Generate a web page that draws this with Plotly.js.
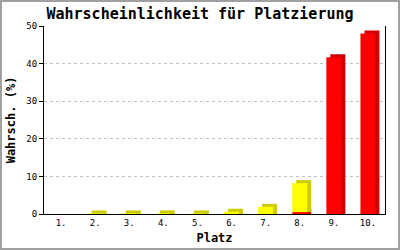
<!DOCTYPE html>
<html><head><meta charset="utf-8">
<script src="https://cdn.plot.ly/plotly-3.0.1.min.js"></script>
<style>
html,body{margin:0;padding:0;background:#fff;}
#wrap{width:400px;height:250px;box-sizing:border-box;border:2px solid #a0a0a0;}
#chart{width:396px;height:246px;}
</style></head><body>
<div id="wrap"><div id="chart"></div></div>
<script>
const categories = ["1.","2.","3.","4.","5.","6.","7.","8.","9.","10."];
const redValues = [0,0,0,0,0,0,0,0.5,41.7,48.0];
const yellowValues = [0,0.15,0.15,0.15,0.15,0.6,1.9,7.7,0,0];
const yTicks = [0,10,20,30,40,50];

const depthUp = 0.8;      // 3D depth (style)
const barW = 0.44;
const frontOff = -0.22;
const depthOff = -0.103;
const mono = "DejaVu Sans Mono";

const redDepth = redValues.map(v => v > 0 ? v + depthUp : null);
const yellowDepth = yellowValues.map(v => v > 0 ? v + depthUp : null);

const traces = [
  {type:'bar', x:categories, y:redDepth, base:0, width:barW, offset:depthOff,
   marker:{color:'#cc0000', line:{width:0}}, hoverinfo:'skip'},
  {type:'bar', x:categories, y:yellowDepth, base:redValues, width:barW, offset:depthOff,
   marker:{color:'#cccc00', line:{width:0}}, hoverinfo:'skip'},
  {type:'bar', x:categories, y:redValues, base:0, width:barW, offset:frontOff,
   marker:{color:'#ff0000', line:{width:0}}},
  {type:'bar', x:categories, y:yellowValues, base:redValues, width:barW, offset:frontOff,
   marker:{color:'#ffff00', line:{width:0}}}
];

const layout = {
  width:396, height:246,
  margin:{l:42, r:13, t:24, b:34},
  paper_bgcolor:'#ffffff', plot_bgcolor:'#ffffff',
  barmode:'overlay', showlegend:false,
  title:{text:'<b>Wahrscheinlichkeit für Platzierung</b>', font:{family:mono, size:15, color:'#000'},
         x:0.5, xanchor:'center', y:0.975, yanchor:'top'},
  xaxis:{type:'category', showline:true, linecolor:'#000', linewidth:1, mirror:false,
         ticks:'', showgrid:false, zeroline:false,
         tickfont:{family:mono, size:9, color:'#000'},
         title:{text:'<b>Platz</b>', font:{family:mono, size:12, color:'#000'}, standoff:6}},
  yaxis:{range:[0,50], tickvals:yTicks, showline:true, linecolor:'#000', linewidth:1, mirror:true,
         ticks:'outside', ticklen:4, tickcolor:'#000', tickwidth:1,
         showgrid:true, gridcolor:'#c0c0c0', griddash:'3px,3px', gridwidth:1, zeroline:false,
         tickfont:{family:mono, size:9, color:'#000'},
         title:{text:'<b>Wahrsch. (%)</b>', font:{family:mono, size:12, color:'#000'}, standoff:8}}
};

Plotly.newPlot('chart', traces, layout, {staticPlot:true, displayModeBar:false});
</script>
</body></html>
